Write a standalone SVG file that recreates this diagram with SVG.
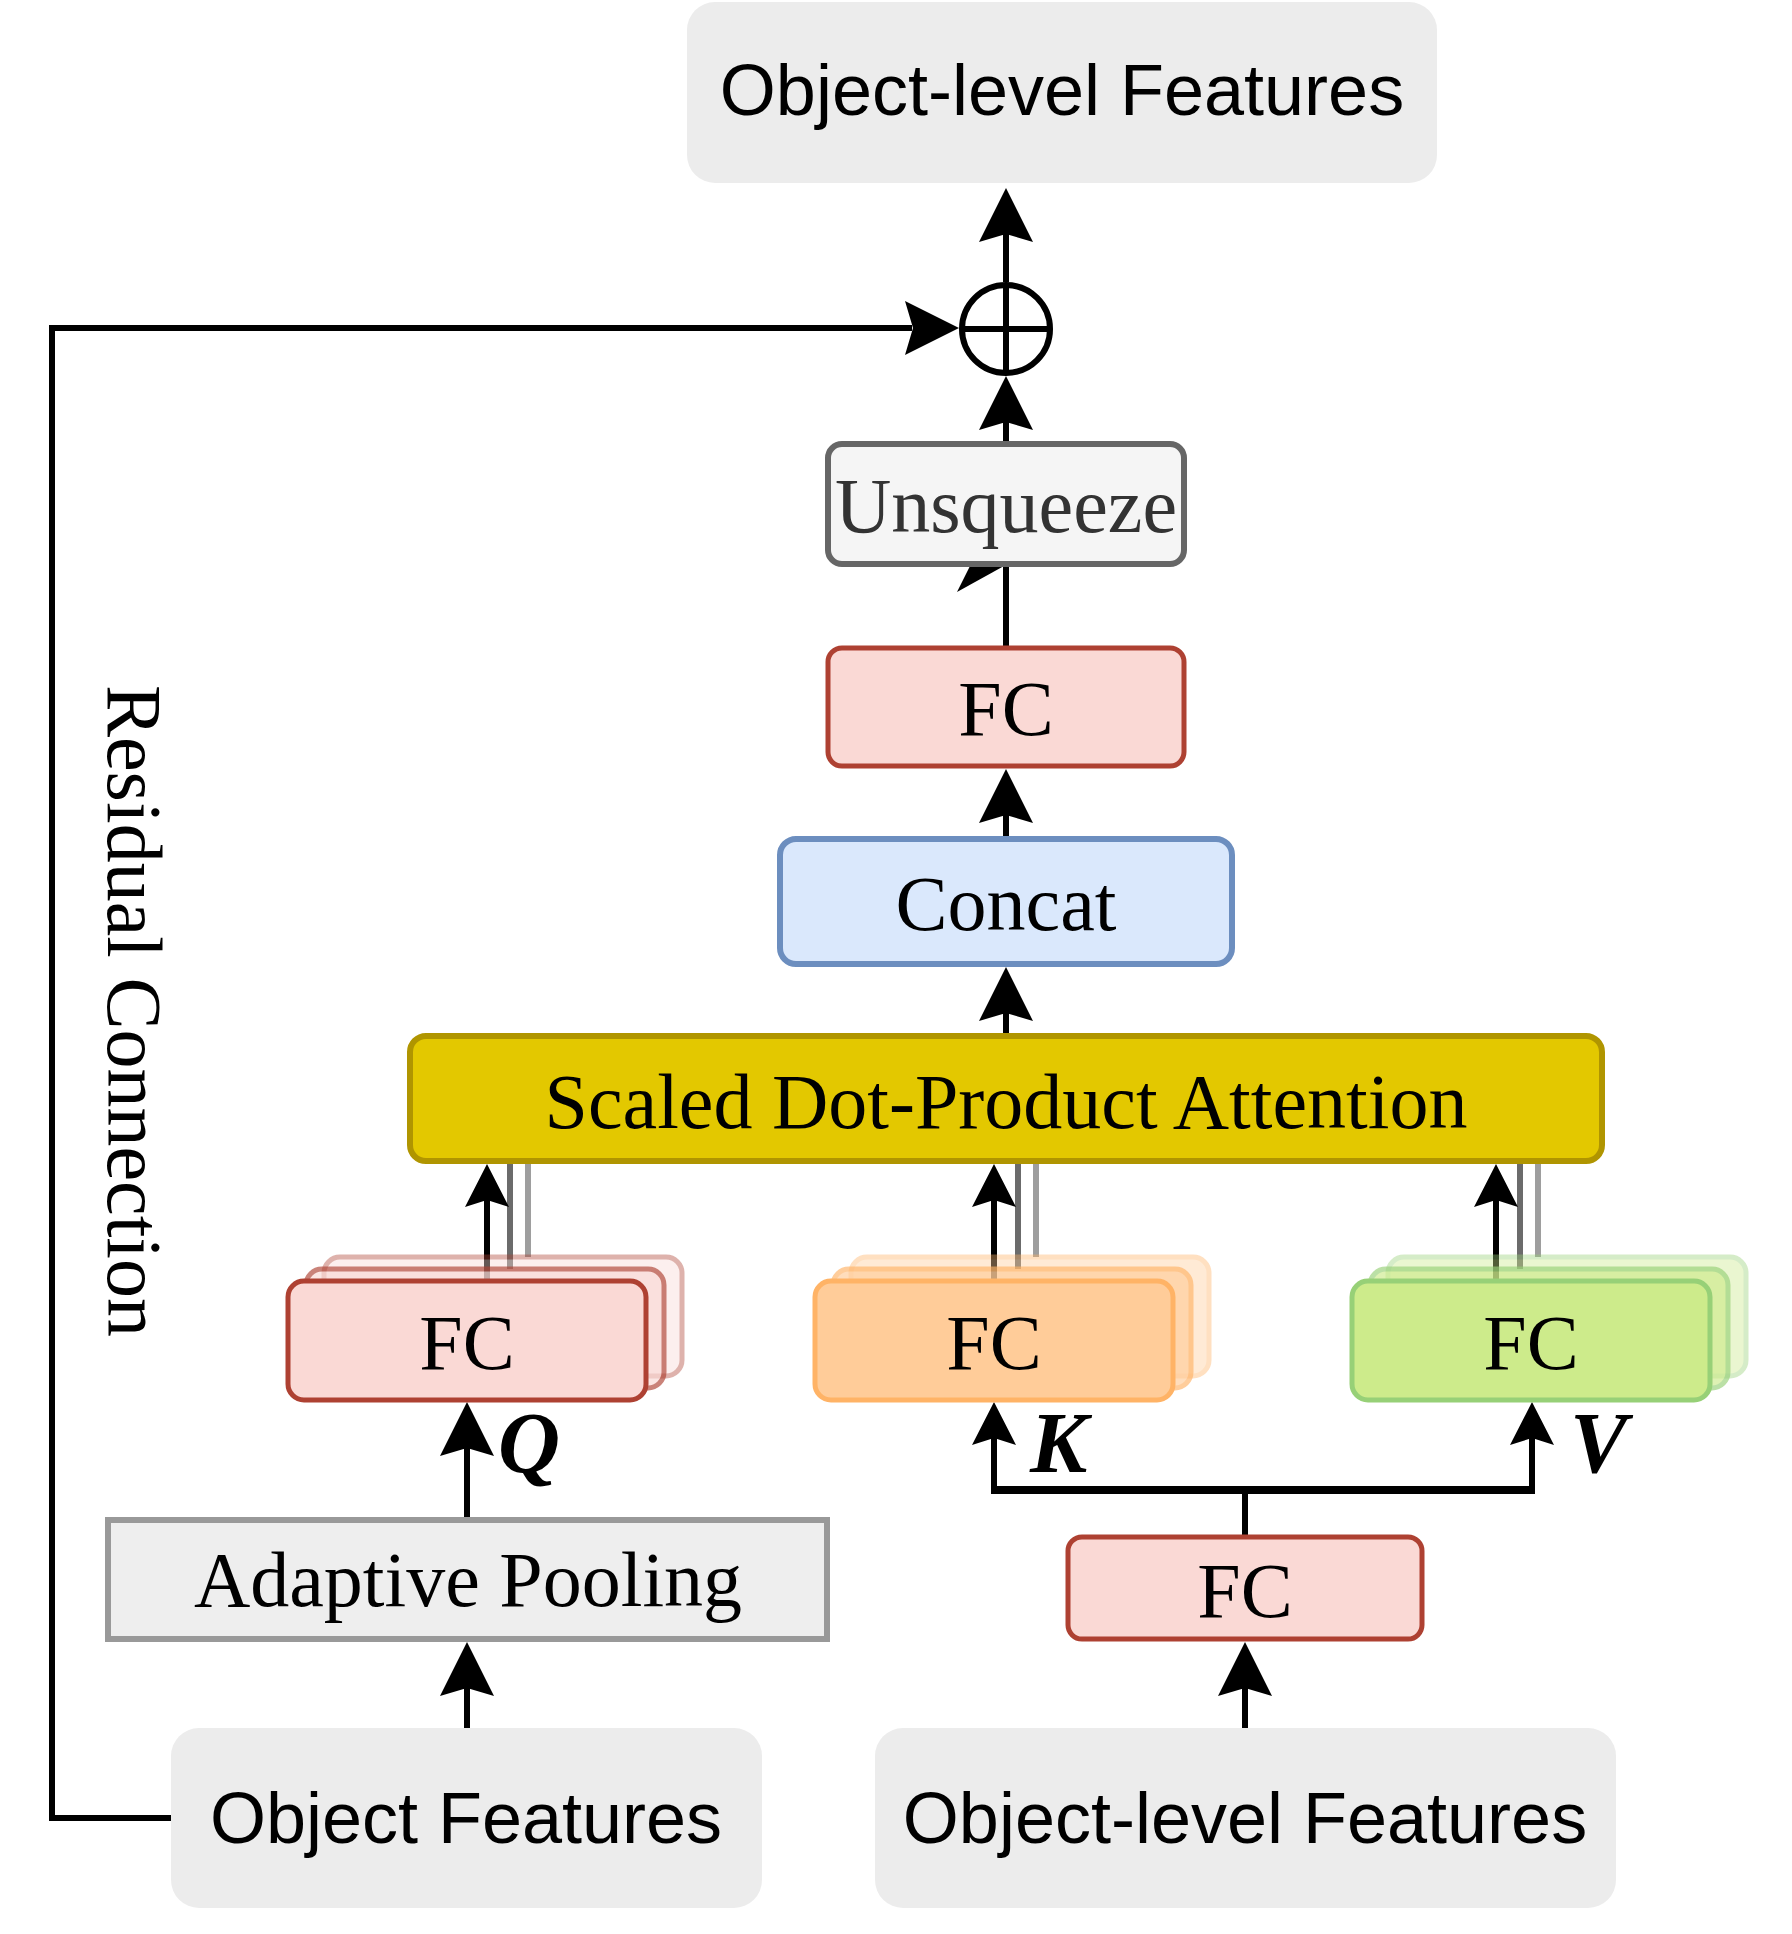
<svg xmlns="http://www.w3.org/2000/svg" xmlns:xlink="http://www.w3.org/1999/xlink" width="1792" height="1934" viewBox="0 0 1792 1934">
<style>
.sans{font-family:"Liberation Sans",Arial,sans-serif;font-size:72px;fill:#000;text-anchor:middle}
.serif{font-family:"Liberation Serif","Times New Roman",serif;font-size:78px;fill:#000;text-anchor:middle}
.lbl{font-family:"Liberation Serif","Times New Roman",serif;font-size:86px;font-style:italic;font-weight:bold;fill:#000}
.ln{fill:none;stroke:#000;stroke-width:6}
.ghost1{fill:none;stroke:#000;stroke-width:6;opacity:0.58}
.ghost2{fill:none;stroke:#000;stroke-width:6;opacity:0.38}
.feat{fill:#ececec;stroke:none}
.red{fill:#fad9d5;stroke:#ae4132;stroke-width:5}
.orange{fill:#ffcc99;stroke:#ffb366;stroke-width:5}
.green{fill:#cdeb8b;stroke:#97d077;stroke-width:5}
.b2{opacity:0.65}
.b3{opacity:0.4}
</style>
<defs>
<path id="ahB" d="M0,0 L27,54 L0,46 L-27,54 Z" fill="#000"/>
<path id="ahS" d="M0,0 L22,43 L0,36 L-22,43 Z" fill="#000"/>
</defs>

<g id="connectors">
  <!-- residual connection -->
  <path class="ln" d="M171,1818 H52 V328 H912"/>
  <use xlink:href="#ahB" transform="translate(959,328) rotate(90)"/>
  <text class="serif" transform="translate(108,1011) rotate(90)">Residual Connection</text>
  <!-- circle to top features -->
  <path class="ln" d="M1006,282 V232"/>
  <use xlink:href="#ahB" x="1006" y="188"/>
  <!-- unsqueeze to circle -->
  <path class="ln" d="M1006,442 V420"/>
  <use xlink:href="#ahB" x="1006" y="376"/>
  <!-- FC to unsqueeze -->
  <path class="ln" d="M1006,646 V566"/>
  <polygon points="970,566 957,592 1004,566" fill="#000"/>
  <!-- concat to FC -->
  <path class="ln" d="M1006,838 V815"/>
  <use xlink:href="#ahB" x="1006" y="769"/>
  <!-- attention to concat -->
  <path class="ln" d="M1006,1034 V1011"/>
  <use xlink:href="#ahB" x="1006" y="967"/>
  <!-- stacks to attention -->
  <path class="ln" d="M487,1281 V1198"/>
  <use xlink:href="#ahS" x="487" y="1164"/>
  <path class="ghost1" d="M510,1269 V1164"/>
  <path class="ghost2" d="M528,1257 V1164"/>
  <path class="ln" d="M994,1281 V1198"/>
  <use xlink:href="#ahS" x="994" y="1164"/>
  <path class="ghost1" d="M1018,1269 V1164"/>
  <path class="ghost2" d="M1036,1257 V1164"/>
  <path class="ln" d="M1496,1281 V1198"/>
  <use xlink:href="#ahS" x="1496" y="1164"/>
  <path class="ghost1" d="M1520,1269 V1164"/>
  <path class="ghost2" d="M1538,1257 V1164"/>
  <!-- pooling to Q -->
  <path class="ln" d="M467,1518 V1448"/>
  <use xlink:href="#ahB" x="467" y="1402"/>
  <text class="lbl" x="498" y="1472">Q</text>
  <!-- FC split to K / V -->
  <path class="ln" d="M1245,1537 V1490"/>
  <path d="M994,1490 H1532" fill="none" stroke="#000" stroke-width="8"/>
  <path class="ln" d="M994,1494 V1438"/>
  <use xlink:href="#ahS" x="994" y="1402"/>
  <text class="lbl" x="1030" y="1472">K</text>
  <path class="ln" d="M1532,1494 V1438"/>
  <use xlink:href="#ahS" x="1532" y="1402"/>
  <text class="lbl" x="1570" y="1472">V</text>
  <!-- object features to pooling -->
  <path class="ln" d="M467,1728 V1688"/>
  <use xlink:href="#ahB" x="467" y="1642"/>
  <!-- object-level features to FC -->
  <path class="ln" d="M1245,1728 V1688"/>
  <use xlink:href="#ahB" x="1245" y="1642"/>
</g>

<g id="out-features">
  <rect class="feat" x="687" y="2" width="750" height="181" rx="28"/>
  <text class="sans" x="1062" y="115">Object-level Features</text>
</g>

<g id="add">
  <circle cx="1006" cy="329" r="44" fill="#fff" stroke="#000" stroke-width="6"/>
  <path d="M1006,285 V373 M962,329 H1050" stroke="#000" stroke-width="6"/>
</g>

<g id="unsqueeze">
  <rect x="828" y="444" width="356" height="120" rx="14" fill="#f5f5f5" stroke="#666666" stroke-width="6"/>
  <text class="serif" x="1006" y="532" fill="#333333" style="fill:#333333">Unsqueeze</text>
</g>

<g id="fc-out">
  <rect class="red" x="828" y="648" width="356" height="118" rx="14" stroke-width="6"/>
  <text class="serif" x="1006" y="735">FC</text>
</g>

<g id="concat">
  <rect x="780" y="839" width="452" height="125" rx="16" fill="#dae8fc" stroke="#6c8ebf" stroke-width="6"/>
  <text class="serif" x="1006" y="930">Concat</text>
</g>

<g id="attention">
  <rect x="410" y="1036" width="1192" height="125" rx="16" fill="#e3c800" stroke="#b09500" stroke-width="6"/>
  <text class="serif" x="1006" y="1128">Scaled Dot-Product Attention</text>
</g>

<g id="fc-q">
  <rect class="red b3" x="324" y="1257" width="358" height="119" rx="16"/>
  <rect class="red b2" x="306" y="1269" width="358" height="119" rx="16"/>
  <rect class="red" x="288" y="1281" width="358" height="119" rx="16"/>
  <text class="serif" x="467" y="1369">FC</text>
</g>

<g id="fc-k">
  <rect class="orange b3" x="851" y="1257" width="358" height="119" rx="16"/>
  <rect class="orange b2" x="833" y="1269" width="358" height="119" rx="16"/>
  <rect class="orange" x="815" y="1281" width="358" height="119" rx="16"/>
  <text class="serif" x="994" y="1369">FC</text>
</g>

<g id="fc-v">
  <rect class="green b3" x="1388" y="1257" width="358" height="119" rx="16"/>
  <rect class="green b2" x="1370" y="1269" width="358" height="119" rx="16"/>
  <rect class="green" x="1352" y="1281" width="358" height="119" rx="16"/>
  <text class="serif" x="1531" y="1369">FC</text>
</g>

<g id="pooling">
  <rect x="108" y="1520" width="719" height="119" fill="#eeeeee" stroke="#999999" stroke-width="6"/>
  <text class="serif" x="468" y="1606">Adaptive Pooling</text>
</g>

<g id="fc-in">
  <rect class="red" x="1068" y="1537" width="354" height="102" rx="14" stroke-width="6"/>
  <text class="serif" x="1245" y="1617">FC</text>
</g>

<g id="obj-features">
  <rect class="feat" x="171" y="1728" width="591" height="180" rx="28"/>
  <text class="sans" x="466" y="1843">Object Features</text>
</g>

<g id="obj-level-features">
  <rect class="feat" x="875" y="1728" width="741" height="180" rx="28"/>
  <text class="sans" x="1245" y="1843">Object-level Features</text>
</g>
</svg>
